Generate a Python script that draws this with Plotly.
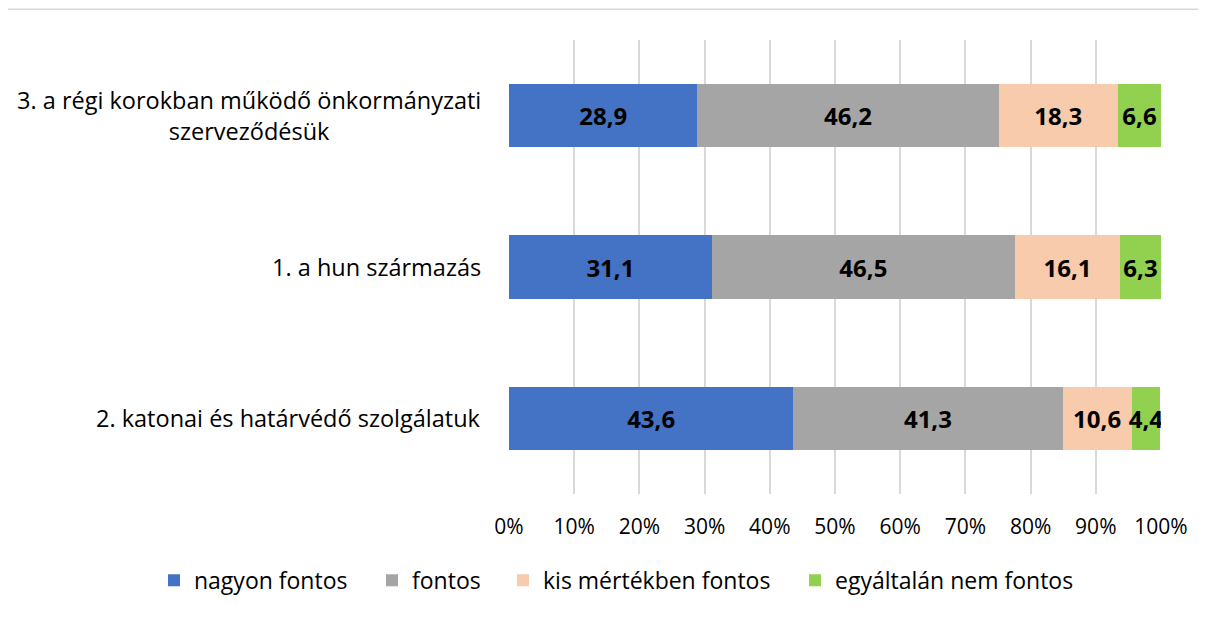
import plotly.graph_objects as go

categories = [
    "3. a régi korokban működő önkormányzati<br>szerveződésük",
    "1. a hun származás",
    "2. katonai és határvédő szolgálatuk",
]
series_names = ["nagyon fontos", "fontos", "kis mértékben fontos", "egyáltalán nem fontos"]
nagyon_fontos = [28.9, 31.1, 43.6]
fontos = [46.2, 46.5, 41.3]
kis_mertekben = [18.3, 16.1, 10.6]
egyaltalan_nem = [6.6, 6.3, 4.4]
colors = ["#4472C4", "#A5A5A5", "#F8CBAD", "#92D050"]
tick_vals = [0, 10, 20, 30, 40, 50, 60, 70, 80, 90, 100]
tick_text = [f"{v}%" for v in tick_vals]

# horizontal position of each legend entry (paper coords)
legend_x = [-0.5445, -0.2101, -0.0092, 0.4387]
legend_ids = ["legend", "legend2", "legend3", "legend4"]

FONT = "Open Sans"
fig = go.Figure()
for name, vals, col, lid in zip(series_names, [nagyon_fontos, fontos, kis_mertekben, egyaltalan_nem],
                                colors, legend_ids):
    fig.add_trace(go.Bar(
        y=categories, x=vals, name=name, orientation="h",
        marker=dict(color=col, line=dict(width=0)),
        text=[f"{v:.1f}".replace(".", ",") for v in vals],
        textposition="inside", insidetextanchor="middle", textangle=0,
        textfont=dict(family=FONT, size=24, color="black", weight="bold"),
        constraintext="none",
        hoverinfo="skip",
        legend=lid,
    ))

for c in categories:
    fig.add_annotation(
        x=-0.04, xref="paper", y=c, yref="y", text=c, showarrow=False,
        xanchor="right", yanchor="middle", align="center",
        font=dict(family=FONT, size=23.5, color="#000000"),
    )

fig.add_shape(type="rect", xref="paper", yref="paper",
              x0=-0.77, x1=1.075, y0=-0.278, y1=1.068,
              line=dict(color="#D9D9D9", width=1.5), fillcolor="rgba(0,0,0,0)", layer="below")

legend_layout = {}
for lid, lx in zip(legend_ids, legend_x):
    legend_layout[lid] = dict(orientation="h", x=lx, xanchor="left", y=-0.19, yanchor="middle",
                              font=dict(family=FONT, size=23, color="#000000"),
                              itemwidth=30, bgcolor="rgba(0,0,0,0)")

fig.update_layout(
    barmode="stack", bargap=0.58,
    width=1206, height=617,
    margin=dict(l=501, r=53, t=32, b=131),
    paper_bgcolor="white", plot_bgcolor="white",
    font=dict(family=FONT, size=20, color="#000000"),
    showlegend=True,
    uniformtext=dict(mode=False),
    **legend_layout,
)
fig.update_xaxes(range=[0, 100], tickvals=tick_vals, ticktext=tick_text,
                 showgrid=True, gridcolor="#D9D9D9", gridwidth=1.5, zeroline=False,
                 showline=False, ticks="", ticklabelstandoff=18,
                 tickfont=dict(family=FONT, size=21, color="#000000"),
                 fixedrange=True)
fig.update_yaxes(autorange="reversed", showticklabels=False, showgrid=False, zeroline=False,
                 showline=False, ticks="")

fig.write_html("out.html")
